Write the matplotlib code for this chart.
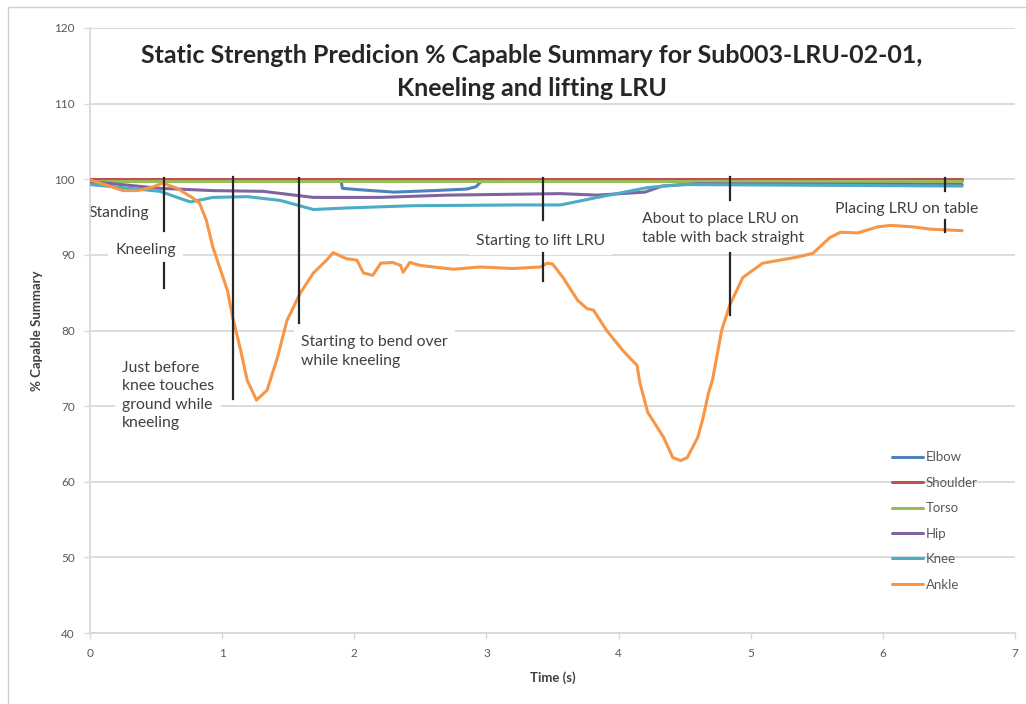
import matplotlib
matplotlib.use("Agg")
import matplotlib.pyplot as plt
from matplotlib.patches import Rectangle

# ---- data -------------------------------------------------------------
ankle_t = [0.00, 0.13, 0.25, 0.36, 0.48, 0.55, 0.66, 0.78, 0.83, 0.88, 0.93, 0.98,
           1.04, 1.08, 1.14, 1.19, 1.26, 1.34, 1.42, 1.49, 1.59, 1.69, 1.79, 1.84,
           1.94, 2.02, 2.07, 2.14, 2.20, 2.29, 2.35, 2.37, 2.42, 2.50, 2.75, 2.95,
           3.20, 3.41, 3.46, 3.50, 3.58, 3.69, 3.76, 3.81, 3.91, 4.03, 4.10, 4.14,
           4.16, 4.22, 4.26, 4.34, 4.41, 4.47, 4.52, 4.60, 4.64, 4.68, 4.71, 4.78,
           4.84, 4.94, 5.09, 5.22, 5.35, 5.47, 5.60, 5.68, 5.81, 5.96, 6.06, 6.23,
           6.36, 6.60]
ankle_v = [99.9, 99.2, 98.5, 98.5, 99.0, 99.5, 98.8, 97.5, 96.8, 94.6, 91.0, 88.4,
           85.3, 81.7, 77.4, 73.4, 70.8, 72.1, 76.5, 81.3, 84.9, 87.6, 89.3, 90.3,
           89.5, 89.3, 87.6, 87.3, 88.9, 89.0, 88.6, 87.7, 89.0, 88.6, 88.1, 88.4,
           88.2, 88.4, 88.9, 88.8, 87.0, 84.0, 82.9, 82.7, 80.0, 77.4, 76.1, 75.4,
           73.2, 69.2, 68.1, 65.9, 63.2, 62.8, 63.2, 65.9, 68.5, 71.7, 73.4, 80.0,
           83.3, 87.0, 88.9, 89.3, 89.7, 90.2, 92.3, 93.0, 92.9, 93.7, 93.9, 93.7,
           93.4, 93.2]

knee_t = [0.00, 0.30, 0.53, 0.66, 0.76, 0.93, 1.19, 1.44, 1.69, 1.94, 2.44, 3.20,
          3.56, 3.84, 4.22, 4.47, 6.60]
knee_v = [99.3, 98.8, 98.4, 97.6, 97.0, 97.6, 97.7, 97.2, 96.0, 96.2, 96.5, 96.6,
          96.6, 97.6, 98.9, 99.3, 99.1]

hip_t = [0.00, 0.53, 0.93, 1.31, 1.69, 2.20, 2.70, 3.56, 3.84, 4.20, 4.33, 4.60, 6.60]
hip_v = [99.7, 98.8, 98.5, 98.4, 97.6, 97.6, 97.9, 98.1, 97.9, 98.3, 99.1, 99.4, 99.3]

elbow_t = [0.00, 0.60, 1.90, 1.91, 2.05, 2.30, 2.60, 2.85, 2.92, 2.96, 6.60]
elbow_v = [99.6, 99.8, 99.8, 98.8, 98.6, 98.3, 98.5, 98.7, 99.0, 99.7, 99.8]

shoulder_t = [0.00, 6.60]
shoulder_v = [100.0, 100.0]

torso_t = [0.00, 6.60]
torso_v = [99.8, 99.8]

series_names = ["Elbow", "Shoulder", "Torso", "Hip", "Knee", "Ankle"]
series_colors = ["#4F81BD", "#C0504D", "#9BBB59", "#8064A2", "#4BACC6", "#F79646"]

# event markers: time, and (top, bottom) of each drawn segment in % capable
event_t = [0.56, 1.08, 1.58, 3.43, 4.84, 6.47]
event_segments = [
    [(100.2, 93.2), (88.9, 85.6)],
    [(100.3, 71.0)],
    [(100.2, 81.0)],
    [(100.1, 94.6), (90.2, 86.6)],
    [(100.3, 97.2), (90.2, 82.0)],
    [(100.1, 98.5), (94.6, 93.0)],
]

event_labels = ["Standing", "Kneeling",
                "Just before\nknee touches\nground while\nkneeling",
                "Starting to bend over\nwhile kneeling",
                "Starting to lift LRU",
                "About to place LRU on\ntable with back straight",
                "Placing LRU on table"]
# label anchor (time, value) = left edge, vertical centre
label_pos = [(-0.01, 95.6), (0.19, 90.6), (0.24, 71.4), (1.60, 77.2),
             (2.92, 91.8), (4.18, 93.5), (5.64, 96.0)]

y_ticks = [40, 50, 60, 70, 80, 90, 100, 110, 120]
x_ticks = [0, 1, 2, 3, 4, 5, 6, 7]

title = "Static Strength Predicion % Capable Summary for Sub003-LRU-02-01,\nKneeling and lifting LRU"

# ---- figure -----------------------------------------------------------
plt.rcParams["font.family"] = ["Lato", "DejaVu Sans"]
W, H = 1026, 704
fig = plt.figure(figsize=(W / 100, H / 100), dpi=100)
fig.patch.set_facecolor("white")

# thin outer chart border
fig.patches.append(Rectangle((8 / W, -0.05), 1.2, 1 - 7 / H + 0.05,
                             transform=fig.transFigure, fill=False,
                             edgecolor="#cfcfcf", linewidth=1.0))

ax = fig.add_axes([90 / W, 1 - 633 / H, (1015 - 90) / W, (633 - 28) / H])
ax.set_xlim(0, 7)
ax.set_ylim(40, 120)
ax.set_xticks(x_ticks)
ax.set_yticks(y_ticks)

grid_c = "#d9d9d9"
for s in ["top", "right"]:
    ax.spines[s].set_visible(False)
for s in ["left", "bottom"]:
    ax.spines[s].set_color(grid_c)
    ax.spines[s].set_linewidth(1.3)
ax.yaxis.grid(True, color=grid_c, linewidth=1.3, zorder=0)
ax.set_axisbelow(True)
ax.tick_params(axis="both", colors=grid_c, length=4, width=1.0,
               labelcolor="#595959", labelsize=8.5)
ax.tick_params(axis="y", pad=7)
ax.tick_params(axis="x", pad=7)

all_t = [elbow_t, shoulder_t, torso_t, hip_t, knee_t, ankle_t]
all_v = [elbow_v, shoulder_v, torso_v, hip_v, knee_v, ankle_v]
for i, (tt, vv) in enumerate(zip(all_t, all_v)):
    ax.plot(tt, vv, color=series_colors[i], linewidth=2.2, label=series_names[i],
            solid_joinstyle="round", solid_capstyle="round", zorder=3 + i)

for t, segs in zip(event_t, event_segments):
    for top, bot in segs:
        ax.plot([t, t], [bot, top], color="#262626", linewidth=1.6, zorder=10)

for txt, (lx, ly) in zip(event_labels, label_pos):
    ax.text(lx, ly, txt, ha="left", va="center", fontsize=11.3, color="#404040",
            linespacing=1.42, zorder=2,
            bbox=dict(boxstyle="square,pad=0.45", facecolor="white", edgecolor="none"))

fig.text(532 / W, 1 - 72 / H, title, ha="center", va="center", fontsize=18,
         fontweight="bold", color="#262626", linespacing=1.55)

ax.set_xlabel("Time (s)", fontsize=9.5, fontweight="bold", color="#404040", labelpad=9)
ax.set_ylabel("% Capable Summary", fontsize=9.5, fontweight="bold", color="#404040",
              labelpad=8)

leg = ax.legend(loc="upper left", bbox_to_anchor=(887 / W, 1 - 446 / H),
                bbox_transform=fig.transFigure, frameon=False, fontsize=9.5,
                handlelength=2.3, handletextpad=0.25, labelspacing=1.02,
                borderaxespad=0)
for t in leg.get_texts():
    t.set_color("#595959")

fig.savefig("out.png", dpi=100, facecolor="white")
